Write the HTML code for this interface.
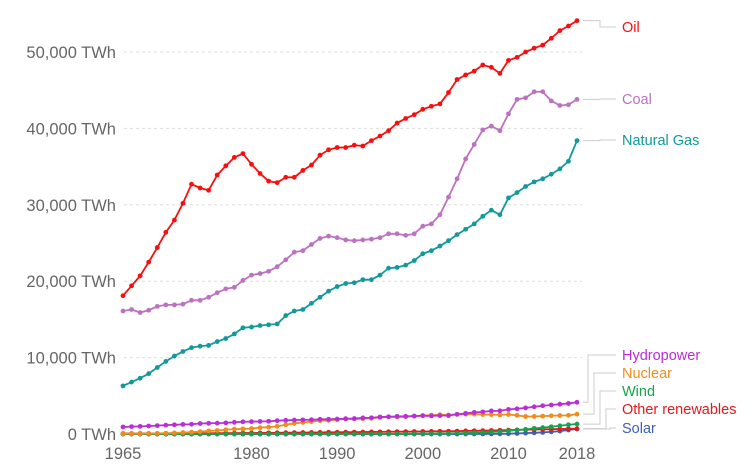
<!DOCTYPE html>
<html><head><meta charset="utf-8">
<style>
html,body{margin:0;padding:0;background:#fff;}
svg{display:block;font-family:"Liberation Sans",sans-serif;}
</style></head>
<body>
<svg id="chart" width="754" height="474" viewBox="0 0 754 474"></svg>
<script>
const years = Array.from({length:54},(_,i)=>1965+i);
const yTicks = [0,10000,20000,30000,40000,50000];
const yTickLabels = ["0 TWh","10,000 TWh","20,000 TWh","30,000 TWh","40,000 TWh","50,000 TWh"];
const xTicks = [1965,1980,1990,2000,2010,2018];
const oil = [18100,19400,20700,22500,24400,26400,28000,30200,32700,32200,
31900,33900,35100,36200,36700,35300,34100,33100,32900,33600,
33600,34500,35200,36500,37200,37500,37500,37800,37700,38400,
39000,39700,40700,41300,41800,42500,42900,43200,44700,46400,
47000,47500,48300,48000,47200,48900,49300,50000,50500,50900,
51800,52800,53400,54100];
const coal = [16100,16300,15900,16200,16700,16900,16900,17000,17500,17500,
17900,18500,19000,19200,20100,20800,21000,21300,21900,22800,
23800,24000,24800,25600,25900,25700,25400,25300,25400,25500,
25700,26200,26200,26000,26200,27200,27500,28700,31000,33400,
36000,37900,39800,40300,39700,41900,43800,44000,44800,44800,
43600,43000,43100,43800];
const gas = [6300,6800,7300,7900,8700,9500,10200,10800,11300,11500,
11600,12100,12500,13100,13900,14000,14200,14300,14400,15500,
16100,16300,17100,17900,18700,19300,19700,19800,20200,20200,
20800,21700,21800,22100,22700,23600,24000,24600,25300,26100,
26800,27500,28500,29300,28700,30900,31600,32400,33000,33400,
34000,34700,35700,38400];
const hydro = [920,970,1000,1050,1100,1160,1200,1260,1280,1370,
1400,1420,1460,1530,1600,1620,1640,1670,1740,1790,
1830,1850,1870,1920,1920,1960,2010,2020,2100,2130,
2230,2260,2310,2320,2350,2400,2370,2410,2420,2570,
2700,2820,2900,3020,3040,3220,3300,3420,3560,3700,
3800,3900,4000,4150];
const nuclear = [30,40,50,70,80,100,140,190,240,300,
400,460,560,640,660,710,830,890,1000,1210,
1400,1510,1630,1750,1790,1880,1960,1970,2010,2060,
2160,2240,2220,2260,2350,2410,2470,2510,2490,2580,
2590,2610,2550,2540,2500,2560,2440,2290,2300,2340,
2390,2420,2440,2600];
const wind = [0,0,0,0,0,0,0,0,0,0,
0,0,0,0,0,0,0,0,0,0,
0,0,0,0,0,5,5,5,10,10,
10,15,20,25,35,40,50,60,80,100,
120,160,200,260,330,410,520,610,740,830,
950,1080,1210,1300];
const otherRen = [60,60,65,70,70,75,80,85,90,95,
100,105,110,115,120,130,140,150,160,170,
180,190,200,210,220,230,240,250,260,270,
280,290,300,310,320,330,340,350,360,380,
400,420,440,460,480,510,540,560,590,610,
630,650,680,700];
const solar = [0,0,0,0,0,0,0,0,0,0,
0,0,0,0,0,0,0,0,0,0,
0,0,0,0,0,0,0,0,0,0,
0,0,0,0,0,0,0,0,0,0,
5,7,9,15,25,40,75,115,155,210,
280,380,520,650];

const NS="http://www.w3.org/2000/svg";
const svg=document.getElementById('chart');
const X0=123,X1=577,Y0=434,Y50=52;
const xs=y=>X0+(y-1965)*(X1-X0)/(2018-1965);
const ys=v=>Y0-v*(Y0-Y50)/50000;
function el(t,a,p){const e=document.createElementNS(NS,t);for(const k in a)e.setAttribute(k,a[k]);(p||svg).appendChild(e);return e;}

yTicks.forEach((v,i)=>{
  if(v>0){const g=el('line',{x1:124,x2:582,y1:ys(v),y2:ys(v),stroke:'#ddd','stroke-dasharray':'3,3','stroke-width':1});
  
  }
  const t=el('text',{x:116,y:ys(v)+6,'text-anchor':'end','font-size':16.5,fill:'#666'});
  t.textContent=yTickLabels[i];
  
  
});
xTicks.forEach(yr=>{
  const t=el('text',{x:xs(yr),y:459,'text-anchor':'middle','font-size':16.5,fill:'#666'});
  t.textContent=yr;
  
  
});
const series=[
 {name:'Solar',d:solar,c:'#3f5fb5',ly:433},
 {name:'Other renewables',d:otherRen,c:'#e3191b',ly:414},
 {name:'Wind',d:wind,c:'#16a24b',ly:396},
 {name:'Nuclear',d:nuclear,c:'#ef8c1c',ly:378},
 {name:'Hydropower',d:hydro,c:'#b92ed6',ly:360},
 {name:'Natural Gas',d:gas,c:'#12999b',ly:145},
 {name:'Coal',d:coal,c:'#bb72c1',ly:104},
 {name:'Oil',d:oil,c:'#f70f0f',ly:32}
];
const elbows={'Oil':600,'Coal':600,'Natural Gas':600,'Hydropower':588,'Nuclear':594,'Wind':600,'Other renewables':606,'Solar':610};
series.forEach(s=>{
  const g=el('g',{});
  
  
  el('polyline',{points:s.d.map((v,i)=>xs(years[i])+','+ys(v)).join(' '),fill:'none',stroke:s.c,'stroke-width':1.8},g);
  s.d.forEach((v,i)=>el('circle',{cx:xs(years[i]),cy:ys(v),r:2.4,fill:s.c},g));
  const ey=ys(s.d[s.d.length-1]), ex=elbows[s.name];
  const ln=el('polyline',{points:`583,${ey} ${ex},${ey} ${ex},${s.ly-5} 616,${s.ly-5}`,fill:'none',stroke:'#ccc','stroke-width':1});
  
  
  const t=el('text',{x:622,y:s.ly,'font-size':14.5,fill:s.c});
  t.textContent=s.name;
  
  
});
</script>
</body></html>
